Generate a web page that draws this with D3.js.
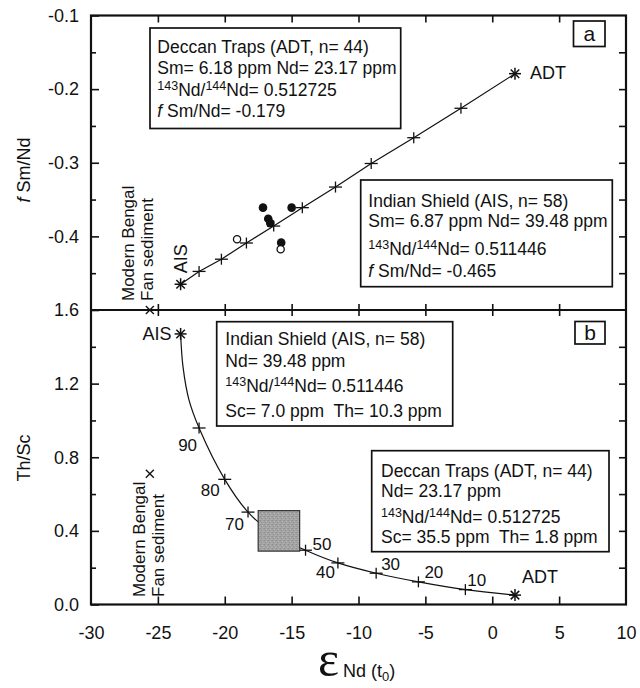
<!DOCTYPE html>
<html>
<head>
<meta charset="utf-8">
<script src="https://cdn.jsdelivr.net/npm/d3@7/dist/d3.min.js"></script>
<style>
  html, body { margin: 0; padding: 0; background: #fff; }
  svg { display: block; }
  text { font-family: "Liberation Sans", Arial, Helvetica, sans-serif; fill: #111; }
</style>
</head>
<body>
<svg id="chart" width="640" height="688"></svg>
<script>
// ---- data ----------------------------------------------------------
const xTickValues = [-30, -25, -20, -15, -10, -5, 0, 5, 10];
const fTickValues = [-0.1, -0.2, -0.3, -0.4];
const fMinorTicks = [-0.15, -0.25, -0.35, -0.45];
const fRightTicks = [-0.15, -0.2, -0.25, -0.3, -0.35, -0.4, -0.45];
const rTickValues = [0.0, 0.4, 0.8, 1.2, 1.6];
const rMinorTicks = [0.2, 0.6, 1.0, 1.4];
const rRightTicks = [0.2, 0.4, 0.6, 0.8, 1.0, 1.2, 1.4];

// end members: Indian Shield (AIS) and Deccan Traps (ADT)
const endNames = ["AIS", "ADT"];
const endEps = [-23.3, 1.7];
const endF = [-0.465, -0.179];
const endThSc = [1.47, 0.051];

// mixing steps (% AIS)
const mixPct = [90, 80, 70, 60, 50, 40, 30, 20, 10];
const mixEpsA = [-21.92, -20.25, -18.38, -16.34, -14.20, -11.72, -9.05, -5.87, -2.34];
const mixFA = [-0.4476, -0.431, -0.409, -0.386, -0.361, -0.333, -0.301, -0.266, -0.226];
const mixEpsB = [-21.92, -20.0, -18.26, -16.2, -13.96, -11.54, -8.68, -5.52, -2.01];
const mixThScB = [0.959, 0.680, 0.502, 0.375, 0.295, 0.226, 0.170, 0.123, 0.081];
// extra points along the steep AIS end of the hyperbola
const traceEpsB = [-23.12, -22.67];
const traceThScB = [1.291, 1.110];

// samples (panel a)
const filledEps = [-17.14, -15.0, -16.75, -16.6, -15.78];
const filledF = [-0.361, -0.361, -0.376, -0.382, -0.4085];
const openEps = [-15.82, -19.08];
const openF = [-0.4175, -0.404];

// Modern Bengal Fan sediment
const bengalEps = -25.6;
const bengalF = -0.5;
const bengalThSc = 0.71;

// sediment field (panel b)
const fieldEps = [-17.5, -14.4];
const fieldThSc = [0.29, 0.51];

const shownPct = [90, 80, 70, 50, 40, 30, 20, 10];

// ---- layout ---------------------------------------------------------
const X0 = 91, X1 = 626, YT = 15.5, YM = 310, YB = 604.5;
const svg = d3.select("#chart");
const ink = "#111";
const boxFont = 17.5;

const x = d3.scaleLinear().domain([-30, 10]).range([X0, X1]);
const yF = d3.scaleLinear().domain([-0.5, -0.1]).range([YM, YT]);
const yR = d3.scaleLinear().domain([0, 1.6]).range([YB, YM]);

// stippled grey fill for the sediment field
const defs = svg.append("defs");
const pat = defs.append("pattern").attr("id", "stipple").attr("patternUnits", "userSpaceOnUse")
  .attr("width", 4).attr("height", 4);
pat.append("rect").attr("width", 4).attr("height", 4).attr("fill", "#a3a3a3");
[[0, 0, "#8e8e8e"], [2, 1, "#b6b6b6"], [1, 2, "#939393"], [3, 3, "#b0b0b0"], [3, 0, "#9a9a9a"], [0, 3, "#adadad"]]
  .forEach(([px, py, c]) => pat.append("rect").attr("x", px).attr("y", py).attr("width", 1).attr("height", 1).attr("fill", c));

function styleAxis(g) {
  g.select(".domain").remove();
  g.selectAll(".tick line").attr("stroke", ink).attr("stroke-width", 1.6);
  g.selectAll(".tick text").attr("font-size", 18).attr("fill", ink)
    .attr("font-family", "Liberation Sans, Arial, sans-serif");
}
const fmt1 = d => d.toFixed(1);

// bottom x axis with labels
svg.append("g").attr("transform", `translate(0,${YB})`)
  .call(d3.axisBottom(x).tickValues(xTickValues).tickSize(-8).tickPadding(22).tickFormat(d => String(d)))
  .call(styleAxis)
  .call(g => g.selectAll(".tick").filter(d => d === -30 || d === 10).select("line").remove());
// top x ticks
svg.append("g").attr("transform", `translate(0,${YT})`)
  .call(d3.axisTop(x).tickValues(xTickValues.slice(1, -1)).tickSize(-7).tickFormat(""))
  .call(styleAxis);
// ticks crossing the panel boundary
svg.append("g").attr("transform", `translate(0,${YM})`)
  .call(d3.axisBottom(x).tickValues(xTickValues.slice(1, -1)).tickSize(-6).tickFormat(""))
  .call(styleAxis);
svg.append("g").attr("transform", `translate(0,${YM})`)
  .call(d3.axisTop(x).tickValues(xTickValues.slice(1, -1)).tickSize(-6).tickFormat(""))
  .call(styleAxis);

// left axes
svg.append("g").attr("transform", `translate(${X0},0)`)
  .call(d3.axisLeft(yF).tickValues(fTickValues).tickSize(-8).tickPadding(12).tickFormat(fmt1))
  .call(styleAxis);
svg.append("g").attr("transform", `translate(${X0},0)`)
  .call(d3.axisLeft(yF).tickValues(fMinorTicks).tickSize(-5).tickFormat(""))
  .call(styleAxis);
svg.append("g").attr("transform", `translate(${X0},0)`)
  .call(d3.axisLeft(yR).tickValues(rTickValues).tickSize(-8).tickPadding(12).tickFormat(fmt1))
  .call(styleAxis);
svg.append("g").attr("transform", `translate(${X0},0)`)
  .call(d3.axisLeft(yR).tickValues(rMinorTicks).tickSize(-5).tickFormat(""))
  .call(styleAxis);
// right ticks
svg.append("g").attr("transform", `translate(${X1},0)`)
  .call(d3.axisRight(yF).tickValues(fRightTicks).tickSize(-7).tickFormat(""))
  .call(styleAxis);
svg.append("g").attr("transform", `translate(${X1},0)`)
  .call(d3.axisRight(yR).tickValues(rRightTicks).tickSize(-7).tickFormat(""))
  .call(styleAxis);

// frame
svg.append("rect").attr("x", X0).attr("y", YT).attr("width", X1 - X0).attr("height", YB - YT)
  .attr("fill", "none").attr("stroke", ink).attr("stroke-width", 2.2);
svg.append("line").attr("x1", X0).attr("x2", X1).attr("y1", YM).attr("y2", YM)
  .attr("stroke", ink).attr("stroke-width", 2.2);

// ---- markers ---------------------------------------------------------
function star(g, cx, cy, r) {
  const s = g.append("g").attr("stroke", ink).attr("stroke-width", 1.5);
  [0, 45, 90, 135].forEach(a => {
    const t = a * Math.PI / 180;
    s.append("line").attr("x1", cx - r * Math.cos(t)).attr("y1", cy - r * Math.sin(t))
      .attr("x2", cx + r * Math.cos(t)).attr("y2", cy + r * Math.sin(t));
  });
}
function plus(g, cx, cy) {
  const s = g.append("g").attr("stroke", ink).attr("stroke-width", 1.3);
  s.append("line").attr("x1", cx - 6.5).attr("x2", cx + 6.5).attr("y1", cy).attr("y2", cy);
  s.append("line").attr("x1", cx).attr("x2", cx).attr("y1", cy - 5.5).attr("y2", cy + 5.5);
}
function cross(g, cx, cy) {
  const s = g.append("g").attr("stroke", ink).attr("stroke-width", 1.3);
  s.append("line").attr("x1", cx - 4).attr("x2", cx + 4).attr("y1", cy - 4).attr("y2", cy + 4);
  s.append("line").attr("x1", cx - 4).attr("x2", cx + 4).attr("y1", cy + 4).attr("y2", cy - 4);
}

// ---- panel a ---------------------------------------------------------
const gA = svg.append("g");
const lineA = [[endEps[0], endF[0]]].concat(mixEpsA.map((e, i) => [e, mixFA[i]]), [[endEps[1], endF[1]]]);
gA.append("path").datum(lineA)
  .attr("d", d3.line().x(d => x(d[0])).y(d => yF(d[1])))
  .attr("fill", "none").attr("stroke", ink).attr("stroke-width", 1.2);
mixEpsA.forEach((e, i) => plus(gA, x(e), yF(mixFA[i])));
star(gA, x(endEps[0]), yF(endF[0]), 6);
star(gA, x(endEps[1]), yF(endF[1]), 6);
gA.selectAll("circle.filled").data(filledEps).join("circle").attr("class", "filled")
  .attr("cx", d => x(d)).attr("cy", (d, i) => yF(filledF[i])).attr("r", 4.3).attr("fill", ink);
gA.selectAll("circle.open").data(openEps).join("circle").attr("class", "open")
  .attr("cx", d => x(d)).attr("cy", (d, i) => yF(openF[i])).attr("r", 3.6)
  .attr("fill", "#fff").attr("stroke", ink).attr("stroke-width", 1.3);
cross(gA, x(bengalEps), yF(bengalF));

// end-member labels
gA.append("text").attr("x", x(endEps[1]) + 15).attr("y", yF(endF[1]) + 5)
  .attr("font-size", 18).text(endNames[1]);
gA.append("text").attr("transform", `translate(${x(endEps[0]) + 6},${yF(endF[0]) - 11}) rotate(-90)`)
  .attr("font-size", 18).text(endNames[0]);

// Modern Bengal Fan sediment labels
function bengalLabel(g, bx, by) {
  g.append("text").attr("transform", `translate(${bx},${by}) rotate(-90)`).attr("font-size", 17).text("Modern Bengal");
  g.append("text").attr("transform", `translate(${bx + 19},${by}) rotate(-90)`).attr("font-size", 17).text("Fan sediment");
}
bengalLabel(gA, 134, 301);

// ---- panel b ---------------------------------------------------------
const gB = svg.append("g");
const curveB = [[endEps[0], endThSc[0]]]
  .concat(traceEpsB.map((e, i) => [e, traceThScB[i]]))
  .concat(mixEpsB.map((e, i) => [e, mixThScB[i]]))
  .concat([[endEps[1], endThSc[1]]]);
gB.append("path").datum(curveB)
  .attr("d", d3.line().x(d => x(d[0])).y(d => yR(d[1])).curve(d3.curveCatmullRom.alpha(0.5)))
  .attr("fill", "none").attr("stroke", ink).attr("stroke-width", 1.2);
mixEpsB.forEach((e, i) => plus(gB, x(e), yR(mixThScB[i])));
star(gB, x(endEps[0]), yR(endThSc[0]), 6);
star(gB, x(endEps[1]), yR(endThSc[1]), 6);

// sediment field
gB.append("rect")
  .attr("x", x(fieldEps[0])).attr("y", yR(fieldThSc[1]))
  .attr("width", x(fieldEps[1]) - x(fieldEps[0])).attr("height", yR(fieldThSc[0]) - yR(fieldThSc[1]))
  .attr("fill", "url(#stipple)").attr("stroke", "#333").attr("stroke-width", 1.2);

cross(gB, x(bengalEps), yR(bengalThSc));
bengalLabel(gB, 144.5, 597);

// mixing percentage labels
const pctPlace = {
  90: [-2, 23, "end"], 80: [-5, 17, "end"], 70: [-4, 18, "end"], 50: [7, 0, "start"],
  40: [-3, 15, "end"], 30: [5, -3, "start"], 20: [6, -4, "start"], 10: [2, -4, "start"]
};
shownPct.forEach(p => {
  const i = mixPct.indexOf(p);
  const [dx, dy, anchor] = pctPlace[p];
  gB.append("text").attr("x", x(mixEpsB[i]) + dx).attr("y", yR(mixThScB[i]) + dy)
    .attr("text-anchor", anchor).attr("font-size", 17).text(p);
});

gB.append("text").attr("x", x(endEps[0]) - 9).attr("y", yR(endThSc[0]) + 6)
  .attr("text-anchor", "end").attr("font-size", 18).text(endNames[0]);
gB.append("text").attr("x", x(endEps[1]) + 7).attr("y", yR(endThSc[1]) - 12)
  .attr("font-size", 18).text(endNames[1]);

// ---- info boxes -------------------------------------------------------
function infoBox(x0, y0, x1, y1, tx, baselines, lines) {
  svg.append("rect").attr("x", x0).attr("y", y0).attr("width", x1 - x0).attr("height", y1 - y0)
    .attr("fill", "#fff").attr("stroke", ink).attr("stroke-width", 1.7);
  lines.forEach((segs, li) => {
    const t = svg.append("text").attr("x", tx).attr("y", baselines[li]).attr("font-size", boxFont)
      .attr("xml:space", "preserve").style("white-space", "pre");
    let shift = 0;
    segs.forEach(s => {
      const sp = t.append("tspan").text(s.t);
      const want = s.sup ? -6 : 0;
      if (want !== shift) { sp.attr("dy", want - shift); shift = want; }
      if (s.sup) sp.attr("font-size", 12.5);
      if (s.it) sp.attr("font-style", "italic");
    });
  });
}
const ratioLine = v => [{ t: "143", sup: true }, { t: "Nd/" }, { t: "144", sup: true }, { t: "Nd= " + v }];
const fLine = v => [{ t: "f", it: true }, { t: " Sm/Nd= " + v }];

infoBox(150, 28, 400.7, 128.5, 157.3, [52.7, 73.5, 95.5, 117], [
  [{ t: "Deccan Traps (ADT, n= 44)" }],
  [{ t: "Sm= 6.18 ppm Nd= 23.17 ppm" }],
  ratioLine("0.512725"),
  fLine("-0.179")
]);
infoBox(360.7, 180, 612.3, 286.7, 368.3, [206.7, 227, 254.5, 277.3], [
  [{ t: "Indian Shield (AIS, n= 58)" }],
  [{ t: "Sm= 6.87 ppm Nd= 39.48 ppm" }],
  ratioLine("0.511446"),
  fLine("-0.465")
]);
infoBox(216.7, 321.7, 452.7, 426, 225.3, [345, 366.5, 391.5, 416.5], [
  [{ t: "Indian Shield (AIS, n= 58)" }],
  [{ t: "Nd= 39.48 ppm" }],
  ratioLine("0.511446"),
  [{ t: "Sc= 7.0 ppm  Th= 10.3 ppm" }]
]);
infoBox(371.7, 450.7, 609, 551.7, 381, [476.7, 497, 522.5, 543.3], [
  [{ t: "Deccan Traps (ADT, n= 44)" }],
  [{ t: "Nd= 23.17 ppm" }],
  ratioLine("0.512725"),
  [{ t: "Sc= 35.5 ppm  Th= 1.8 ppm" }]
]);

// panel letters
function panelLetter(x0, y0, w, h, s) {
  svg.append("rect").attr("x", x0).attr("y", y0).attr("width", w).attr("height", h)
    .attr("fill", "#fff").attr("stroke", ink).attr("stroke-width", 1.7);
  svg.append("text").attr("x", x0 + w / 2).attr("y", y0 + h / 2 + 7).attr("text-anchor", "middle")
    .attr("font-size", 21).text(s);
}
panelLetter(573.5, 21, 31.5, 25.5, "a");
panelLetter(575, 321.5, 30, 22.5, "b");

// ---- axis titles ------------------------------------------------------
const yTitleA = svg.append("text").attr("transform", `translate(30,170) rotate(-90)`)
  .attr("text-anchor", "middle").attr("font-size", 18).attr("xml:space", "preserve");
yTitleA.append("tspan").attr("font-style", "italic").text("f");
yTitleA.append("tspan").text(" Sm/Nd");
svg.append("text").attr("transform", `translate(30,458) rotate(-90)`)
  .attr("text-anchor", "middle").attr("font-size", 18).text("Th/Sc");

svg.append("text").attr("x", 318).attr("y", 676)
  .style("font-family", "'Liberation Serif', 'Times New Roman', serif")
  .attr("font-size", 50).text("ε");
const xt = svg.append("text").attr("x", 343).attr("y", 677).attr("font-size", 18).attr("xml:space", "preserve");
xt.append("tspan").text("Nd (t");
xt.append("tspan").attr("font-size", 13).attr("dy", 4).text("0");
xt.append("tspan").attr("dy", -4).text(")");
</script>
</body>
</html>
